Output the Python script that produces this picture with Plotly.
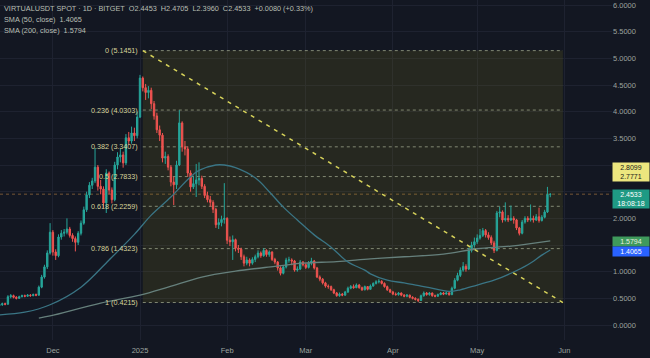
import pandas as pd
import plotly.graph_objects as go

# ---------------- data ----------------
start_date = "2024-11-12"
first_open = 0.37
closes = [
    0.38, 0.40, 0.39, 0.53, 0.55, 0.52, 0.50, 0.53, 0.55, 0.54,
    0.56, 0.55, 0.57, 0.56, 0.71, 0.90, 1.09, 1.35, 1.74, 1.37,
    1.30, 1.65, 1.72, 1.74, 1.80, 1.68, 1.62, 1.55, 1.72, 1.91,
    2.16, 2.44, 2.62, 2.70, 2.96, 2.60, 2.55, 2.29, 2.85, 2.53,
    2.35, 3.00, 3.15, 3.19, 3.04, 3.51, 3.45, 3.60, 3.55, 3.90,
    4.63, 4.45, 4.36, 4.40, 4.15, 3.92, 3.66, 3.56, 3.13, 3.16,
    2.96, 2.68, 2.63, 3.00, 3.79, 3.34, 3.30, 2.85, 2.59, 2.65,
    2.72, 2.75, 2.60, 2.43, 2.35, 2.30, 2.17, 1.88, 1.92, 1.98,
    2.00, 1.59, 1.56, 1.60, 1.44, 1.42, 1.28, 1.16, 1.22, 1.16,
    1.23, 1.28, 1.35, 1.30, 1.40, 1.32, 1.37, 1.23, 1.18, 1.07,
    0.97, 1.09, 1.22, 1.22, 1.20, 1.03, 1.05, 1.18, 1.13, 1.08,
    1.16, 1.20, 1.07, 0.90, 0.86, 0.79, 0.73, 0.72, 0.66, 0.60,
    0.55, 0.58, 0.56, 0.62, 0.69, 0.72, 0.70, 0.75, 0.70, 0.66,
    0.72, 0.67, 0.73, 0.78, 0.81, 0.82, 0.78, 0.72, 0.66, 0.62,
    0.58, 0.57, 0.60, 0.56, 0.54, 0.56, 0.52, 0.50, 0.48, 0.46,
    0.55, 0.60, 0.57, 0.60, 0.55, 0.54, 0.57, 0.60, 0.58, 0.60,
    0.57, 0.69, 0.84, 0.93, 1.03, 1.10, 1.05, 1.40, 1.50, 1.56,
    1.63, 1.68, 1.77, 1.69, 1.64, 1.54, 1.40, 2.10, 2.12, 1.97,
    2.00, 1.97, 2.00, 1.97, 1.82, 1.72, 1.93, 2.00, 1.97, 2.00,
    1.97, 2.03, 1.96, 2.02, 2.12, 2.4453, 2.4533,
]
highs = [
    0.41, 0.42, 0.42, 0.56, 0.58, 0.57, 0.54, 0.55, 0.57, 0.57,
    0.58, 0.58, 0.59, 0.59, 0.74, 0.94, 1.13, 1.40, 1.91, 1.78,
    1.42, 1.70, 1.78, 1.80, 2.00, 1.84, 1.72, 1.66, 1.76, 1.96,
    2.22, 2.50, 2.68, 2.76, 3.32, 3.00, 2.72, 2.60, 2.92, 2.88,
    2.58, 3.06, 3.24, 3.30, 3.25, 3.58, 3.62, 3.72, 3.70, 4.00,
    4.69, 4.66, 4.52, 4.48, 4.45, 4.20, 3.98, 3.74, 3.60, 3.25,
    3.20, 3.00, 2.78, 3.08, 4.03, 3.82, 3.45, 3.35, 2.90, 2.80,
    3.02, 3.05, 2.80, 2.64, 2.50, 2.42, 2.34, 2.20, 2.00, 2.05,
    2.66, 2.02, 1.66, 1.68, 1.62, 1.50, 1.45, 1.32, 1.28, 1.25,
    1.27, 1.32, 1.40, 1.38, 1.44, 1.42, 1.40, 1.38, 1.26, 1.20,
    1.10, 1.12, 1.26, 1.28, 1.25, 1.22, 1.10, 1.22, 1.20, 1.16,
    1.20, 1.26, 1.22, 1.09, 0.93, 0.88, 0.81, 0.76, 0.74, 0.68,
    0.62, 0.61, 0.60, 0.64, 0.72, 0.75, 0.76, 0.78, 0.77, 0.72,
    0.74, 0.73, 0.76, 0.80, 0.84, 0.86, 0.84, 0.80, 0.74, 0.68,
    0.64, 0.61, 0.62, 0.61, 0.58, 0.58, 0.57, 0.54, 0.52, 0.50,
    0.57, 0.63, 0.62, 0.62, 0.61, 0.57, 0.59, 0.62, 0.62, 0.63,
    0.62, 0.72, 0.88, 0.98, 1.08, 1.18, 1.14, 1.45, 1.56, 1.64,
    1.70, 1.80, 1.82, 1.80, 1.74, 1.68, 1.58, 2.14, 2.22, 2.15,
    2.30, 2.06, 2.24, 2.04, 1.99, 1.84, 1.97, 2.04, 2.04, 2.26,
    2.05, 2.08, 2.20, 2.06, 2.16, 2.59, 2.4705,
]
lows = [
    0.35, 0.36, 0.37, 0.38, 0.50, 0.50, 0.48, 0.49, 0.52, 0.52,
    0.53, 0.53, 0.54, 0.54, 0.55, 0.69, 0.87, 1.05, 1.32, 1.30,
    1.22, 1.27, 1.60, 1.66, 1.70, 1.64, 1.56, 1.38, 1.50, 1.68,
    1.88, 2.12, 2.38, 2.55, 2.66, 2.52, 2.45, 2.20, 2.10, 2.45,
    2.28, 2.32, 2.92, 3.05, 2.95, 3.00, 3.38, 3.40, 3.45, 3.50,
    3.88, 4.38, 4.22, 4.25, 4.05, 3.85, 3.60, 3.45, 3.05, 3.02,
    2.90, 2.60, 2.25, 2.55, 2.98, 3.25, 3.18, 2.78, 2.50, 2.55,
    2.40, 2.62, 2.55, 2.38, 2.30, 2.22, 2.10, 1.82, 1.80, 1.85,
    1.90, 1.52, 1.48, 1.22, 1.38, 1.35, 1.22, 1.10, 1.12, 1.10,
    1.13, 1.18, 1.25, 1.26, 1.28, 1.28, 1.28, 1.20, 1.14, 1.02,
    0.93, 0.95, 1.06, 1.17, 1.12, 1.00, 1.00, 1.03, 1.10, 1.05,
    1.06, 1.12, 1.04, 0.88, 0.82, 0.76, 0.70, 0.68, 0.64, 0.58,
    0.53, 0.53, 0.54, 0.55, 0.60, 0.67, 0.68, 0.69, 0.68, 0.64,
    0.65, 0.65, 0.66, 0.72, 0.76, 0.78, 0.76, 0.70, 0.64, 0.60,
    0.56, 0.55, 0.55, 0.54, 0.52, 0.52, 0.50, 0.48, 0.46, 0.43,
    0.45, 0.53, 0.55, 0.55, 0.53, 0.52, 0.53, 0.56, 0.56, 0.57,
    0.55, 0.56, 0.67, 0.82, 0.90, 1.00, 1.00, 1.03, 1.36, 1.45,
    1.52, 1.60, 1.65, 1.64, 1.60, 1.50, 1.35, 1.38, 2.02, 1.92,
    1.94, 1.93, 1.95, 1.90, 1.78, 1.68, 1.70, 1.90, 1.93, 1.94,
    1.92, 1.95, 1.92, 1.94, 2.00, 2.10, 2.3960,
]
opens = [first_open] + closes[:-1]

sma50_dates = ["2024-11-12", "2024-11-21", "2024-11-30", "2024-12-11", "2024-12-21",
               "2024-12-30", "2025-01-05", "2025-01-12", "2025-01-19", "2025-01-22",
               "2025-01-28", "2025-01-31", "2025-02-04", "2025-02-11", "2025-02-16",
               "2025-02-21", "2025-02-26", "2025-03-04", "2025-03-10", "2025-03-16",
               "2025-03-22", "2025-03-24", "2025-03-30", "2025-04-05", "2025-04-11",
               "2025-04-14", "2025-04-21", "2025-04-25", "2025-05-01", "2025-05-07",
               "2025-05-13", "2025-05-19", "2025-05-24", "2025-05-27"]
sma50_vals = [0.19, 0.24, 0.38, 0.71, 1.22,
              1.70, 2.06, 2.40, 2.78, 2.90,
              3.00, 3.00, 2.95, 2.76, 2.50,
              2.21, 1.97, 1.69, 1.46, 1.18,
              1.03, 0.96, 0.84, 0.79, 0.73,
              0.70, 0.63, 0.66, 0.75, 0.84,
              0.97, 1.13, 1.31, 1.4065]

sma200_dates = ["2024-11-26", "2024-11-30", "2024-12-18", "2025-01-01", "2025-01-11",
                "2025-01-23", "2025-02-04", "2025-02-18", "2025-02-28", "2025-03-12",
                "2025-03-24", "2025-04-05", "2025-04-19", "2025-05-01", "2025-05-13",
                "2025-05-27"]
sma200_vals = [0.13, 0.17, 0.41, 0.56, 0.71,
               0.90, 1.01, 1.10, 1.16, 1.19,
               1.24, 1.28, 1.33, 1.43, 1.48,
               1.5794]

fib_ratios = [0, 0.236, 0.382, 0.5, 0.618, 0.786, 1]
fib_prices = [5.1451, 4.0303, 3.3407, 2.7833, 2.2259, 1.4323, 0.4215]
fib_start = "2025-01-02"
fib_end = "2025-05-31 12:00"

month_ticks = ["2024-12-01", "2025-01-01", "2025-02-01", "2025-03-01",
               "2025-04-01", "2025-05-01", "2025-06-01"]
month_labels = ["Dec", "2025", "Feb", "Mar", "Apr", "May", "Jun"]
price_ticks = [0.0, 0.5, 1.0, 1.5, 2.0, 2.5, 3.0, 3.5, 4.0, 4.5, 5.0, 5.5, 6.0]
# 1.5, 2.5 and 3.0 are covered by the price-scale labels in the reference
price_labels = ["0.0000", "0.5000", "1.0000", "", "2.0000", "", "",
                "3.5000", "4.0000", "4.5000", "5.0000", "5.5000", "6.0000"]

last_close = 2.4533
header = "VIRTUALUSDT SPOT · 1D · BITGET  O2.4453  H2.4705  L2.3960  C2.4533  +0.0080 (+0.33%)"
sma50_label = "SMA (50, close)  1.4065"
sma200_label = "SMA (200, close)  1.5794"

# ---------------- figure ----------------
BG = "#131722"
GRID = "#1e2230"
TXT = "#9ca39f"
FONT = "Liberation Sans"

dates = pd.date_range(start_date, periods=len(closes), freq="D")

fig = go.Figure()

fig.add_trace(go.Scatter(x=sma200_dates, y=sma200_vals, mode="lines",
                         line=dict(color="#66807c", width=1.3, shape="spline"),
                         hoverinfo="skip", showlegend=False))
fig.add_trace(go.Scatter(x=sma50_dates, y=sma50_vals, mode="lines",
                         line=dict(color="#3a7585", width=1.3, shape="spline"),
                         hoverinfo="skip", showlegend=False))
fig.add_trace(go.Candlestick(
    x=dates, open=opens, high=highs, low=lows, close=closes,
    increasing=dict(line=dict(color="#26a69a", width=1), fillcolor="#26a69a"),
    decreasing=dict(line=dict(color="#ef5350", width=1), fillcolor="#ef5350"),
    whiskerwidth=0, showlegend=False, hoverinfo="skip"))

shapes = []
shapes.append(dict(type="rect", xref="x", yref="y", x0=fib_start, x1=fib_end,
                   y0=fib_prices[-1], y1=fib_prices[0],
                   fillcolor="rgba(150,140,30,0.15)", line=dict(width=0), layer="between"))
for r, p in zip(fib_ratios, fib_prices):
    shapes.append(dict(type="line", xref="x", yref="y", x0=fib_start, x1=fib_end,
                       y0=p, y1=p, line=dict(color="rgba(170,178,150,0.7)", width=1, dash="3px,3px"),
                       layer="between"))
shapes.append(dict(type="line", xref="paper", yref="y", x0=0, x1=1, y0=last_close, y1=last_close,
                   line=dict(color="rgba(200,140,70,0.55)", width=1, dash="dot"), layer="between"))
shapes.append(dict(type="line", xref="x", yref="y", x0=fib_start, x1=fib_end,
                   y0=fib_prices[0], y1=fib_prices[-1],
                   line=dict(color="#d6d25a", width=1.5, dash="4px,5px"), layer="above"))

annotations = []
for r, p in zip(fib_ratios, fib_prices):
    annotations.append(dict(x=fib_start, y=p, xref="x", yref="y", xanchor="right", yanchor="middle",
                            xshift=-3, text=f"{r:g} ({p:.4f})", showarrow=False,
                            font=dict(family=FONT, size=7.2, color="#d8d49a")))

for i, t in enumerate([header, sma50_label, sma200_label]):
    annotations.append(dict(x=0, y=1, xref="paper", yref="paper", xanchor="left", yanchor="top",
                            xshift=2, yshift=-2 - 11 * i, text=t, showarrow=False,
                            font=dict(family=FONT, size=7.3, color="#b9bfb4")))

def scale_label(y, text, bg, fg, h):
    return dict(x=1, y=y, xref="paper", yref="y", xanchor="left", yanchor="middle",
                xshift=0, text=text, showarrow=False, bgcolor=bg, borderpad=0,
                width=36, height=h, align="center", valign="middle",
                font=dict(family=FONT, size=7, color=fg))

annotations.append(scale_label(2.87, "2.8099<br>2.7771", "#ece67e", "#1a1a1a", 18))
annotations.append(scale_label(2.37, "2.4533<br>18:08:18", "#1f9a84", "#ffffff", 18))
annotations.append(scale_label(1.573, "1.5794", "#3f9a5c", "#e8f0e0", 9))
annotations.append(scale_label(1.385, "1.4065", "#2962ff", "#ffffff", 9))

fig.update_layout(
    width=650, height=358,
    margin=dict(l=0, r=38, t=0, b=18),
    paper_bgcolor=BG, plot_bgcolor=BG,
    shapes=shapes, annotations=annotations,
    showlegend=False, hovermode=False,
    font=dict(family=FONT, size=8, color=TXT),
    xaxis=dict(type="date", range=["2024-11-12 04:16", "2025-06-17 23:17"],
               rangeslider=dict(visible=False), showgrid=True, gridcolor=GRID, gridwidth=1,
               tickvals=month_ticks, ticktext=month_labels, ticks="", zeroline=False,
               showline=False, ticklabelstandoff=4,
               tickfont=dict(family=FONT, size=7.5, color=TXT)),
    yaxis=dict(range=[-0.281, 6.094], side="right", showgrid=True, gridcolor=GRID, gridwidth=1,
               tickvals=price_ticks, ticktext=price_labels, ticks="", zeroline=False,
               showline=False, ticklabelstandoff=0,
               tickfont=dict(family=FONT, size=7.5, color=TXT)),
)

fig.write_html("out.html", config={"displayModeBar": False},
               post_script="document.body.style.margin='0';document.body.style.background='#131722';")
